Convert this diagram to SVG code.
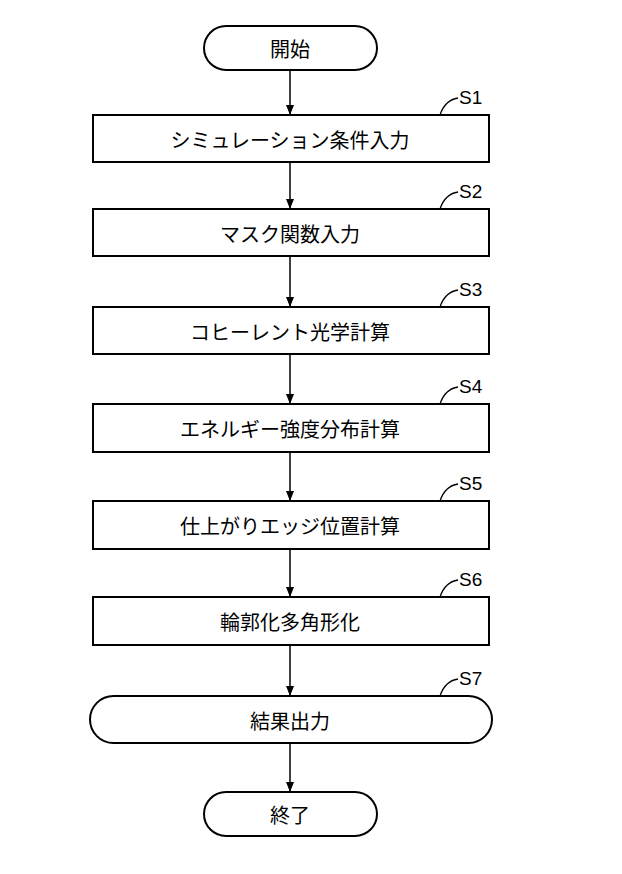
<svg xmlns="http://www.w3.org/2000/svg" width="622" height="874" viewBox="0 0 622 874">
<style>
.b{fill:#fff;stroke:#000;stroke-width:2}
.t{font-family:"Noto Sans CJK JP","Liberation Sans",sans-serif;font-size:20px;text-anchor:middle;dominant-baseline:central;fill:#000}
.s{font-family:"Liberation Sans",sans-serif;font-size:19px;fill:#000}
.c{fill:none;stroke:#000;stroke-width:1.5}
.l{fill:none;stroke:#000;stroke-width:1.3}
</style>
<defs><marker id="a" markerWidth="10" markerHeight="12" refX="5" refY="11" orient="auto" markerUnits="userSpaceOnUse"><path d="M0,0 L10,0 L5,12 Z" transform="rotate(-90 5 6)"/></marker>
<marker id="d" viewBox="0 0 10 10" refX="10" refY="5" markerWidth="10" markerHeight="10" orient="auto" markerUnits="userSpaceOnUse"><path d="M0,1 L10,5 L0,9 Z"/></marker></defs>
<rect width="622" height="874" fill="#fff"/>
<g id="connectors">
<line class="c" x1="290" y1="70" x2="290" y2="115" marker-end="url(#d)"/>
<line class="c" x1="290" y1="162" x2="290" y2="209" marker-end="url(#d)"/>
<line class="c" x1="290" y1="256" x2="290" y2="307" marker-end="url(#d)"/>
<line class="c" x1="290" y1="354" x2="290" y2="404" marker-end="url(#d)"/>
<line class="c" x1="290" y1="452" x2="290" y2="501" marker-end="url(#d)"/>
<line class="c" x1="290" y1="549" x2="290" y2="597" marker-end="url(#d)"/>
<line class="c" x1="290" y1="645" x2="290" y2="696" marker-end="url(#d)"/>
<line class="c" x1="290" y1="743" x2="290" y2="792" marker-end="url(#d)"/>
</g>
<g id="start"><rect class="b" x="204" y="26" width="173" height="44" rx="22"/><text class="t" x="290" y="48">開始</text></g>
<g id="s1"><rect class="b" x="93" y="115" width="396" height="47"/><text class="t" x="290" y="139">シミュレーション条件入力</text><path class="l" d="M440,115 Q445,100 458,98"/><text class="s" x="459" y="104">S1</text></g>
<g id="s2"><rect class="b" x="93" y="209" width="396" height="47"/><text class="t" x="290" y="233">マスク関数入力</text><path class="l" d="M440,209 Q445,194 458,192"/><text class="s" x="459" y="198">S2</text></g>
<g id="s3"><rect class="b" x="93" y="307" width="396" height="47"/><text class="t" x="290" y="331">コヒーレント光学計算</text><path class="l" d="M440,307 Q445,292 458,290"/><text class="s" x="459" y="296">S3</text></g>
<g id="s4"><rect class="b" x="93" y="404" width="396" height="48"/><text class="t" x="290" y="428">エネルギー強度分布計算</text><path class="l" d="M440,404 Q445,389 458,387"/><text class="s" x="459" y="393">S4</text></g>
<g id="s5"><rect class="b" x="93" y="501" width="396" height="48"/><text class="t" x="290" y="525">仕上がりエッジ位置計算</text><path class="l" d="M440,501 Q445,486 458,484"/><text class="s" x="459" y="490">S5</text></g>
<g id="s6"><rect class="b" x="93" y="597" width="396" height="48"/><text class="t" x="290" y="621">輪郭化多角形化</text><path class="l" d="M440,597 Q445,582 458,580"/><text class="s" x="459" y="586">S6</text></g>
<g id="s7"><rect class="b" x="90" y="696" width="402" height="47" rx="23.5"/><text class="t" x="290" y="720">結果出力</text><path class="l" d="M440,696 Q445,681 458,679"/><text class="s" x="459" y="685">S7</text></g>
<g id="end"><rect class="b" x="204" y="792" width="173" height="44" rx="22"/><text class="t" x="290" y="814">終了</text></g>
</svg>
